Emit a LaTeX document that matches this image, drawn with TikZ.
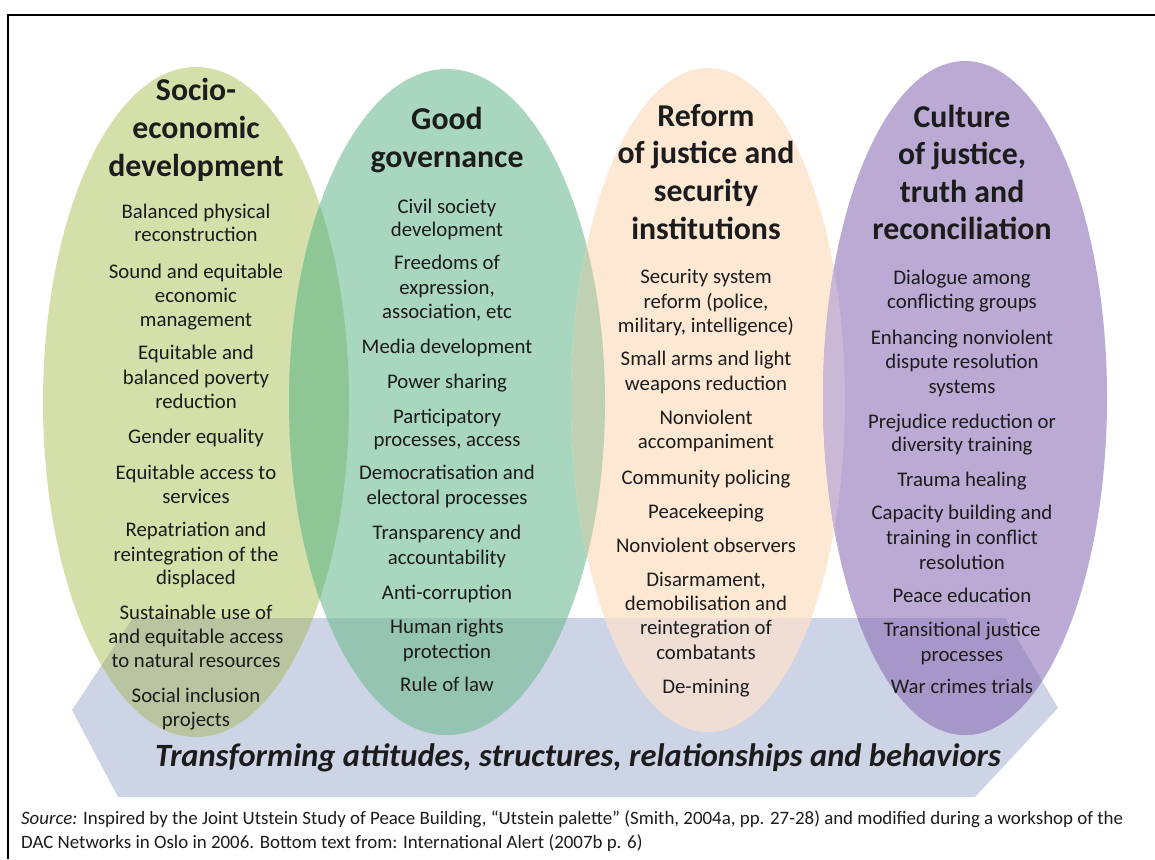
\documentclass[tikz,border=0pt]{standalone}
\usepackage{fontspec}
\setmainfont{Carlito}
\definecolor{ink}{RGB}{28,28,28}
\definecolor{cA}{RGB}{212,223,170}
\definecolor{cB}{RGB}{168,214,190}
\definecolor{cC}{RGB}{253,232,212}
\definecolor{cD}{RGB}{186,170,212}
\definecolor{cBand}{RGB}{205,212,230}
\definecolor{cAB}{RGB}{143,198,150}
\definecolor{cBC}{RGB}{192,208,178}
\definecolor{cCD}{RGB}{202,184,214}
\definecolor{cAband}{RGB}{185,196,160}
\definecolor{cBband}{RGB}{150,196,178}
\definecolor{cCband}{RGB}{240,222,212}
\definecolor{cDband}{RGB}{165,152,200}
\definecolor{cABband}{RGB}{130,182,146}
\definecolor{cBCband}{RGB}{178,196,182}
\definecolor{cCDband}{RGB}{185,168,205}
\begin{document}
\begin{tikzpicture}[x=1pt,y=-1pt,
  body/.style={font=\fontsize{20.8}{24}\selectfont, anchor=base, yshift=-6.2pt, inner sep=0pt, text=ink},
  head/.style={font=\fontsize{31.8}{38}\selectfont\bfseries, anchor=base, yshift=-9.5pt, inner sep=0pt, text=ink},
  bandtext/.style={font=\fontsize{32.5}{38}\selectfont\bfseries\itshape, anchor=base, yshift=-9.5pt, inner sep=0pt, text=ink},
  src/.style={font=\fontsize{18.9}{22}\selectfont, anchor=base west, yshift=-5.5pt, inner sep=0pt, text=ink},
  frame/.style={line width=2pt, black}]
\useasboundingbox (0,0) rectangle (1155,859);
\fill[white] (0,0) rectangle (1155,859);
\def\pband{(133,618) -- (1005,618) -- (1058,708) -- (975,797) -- (118,797) -- (72,710) -- cycle}
\def\pA{(196,402) ellipse [x radius=153pt, y radius=335pt]}
\def\pB{(447,402) ellipse [x radius=158pt, y radius=333pt]}
\def\pC{(708,400) ellipse [x radius=137pt, y radius=332pt]}
\def\pD{(965,398) ellipse [x radius=142pt, y radius=337pt]}
% band and ellipses
\fill[cBand] \pband;
\fill[cA] \pA;
\fill[cB] \pB;
\fill[cC] \pC;
\fill[cD] \pD;
\begin{scope}
  \clip \pband;
  \fill[cAband] \pA;
  \fill[cBband] \pB;
  \fill[cCband] \pC;
  \fill[cDband] \pD;
\end{scope}
\begin{scope}
  \clip \pA;
  \fill[cAB] \pB;
  \clip \pband;
  \fill[cABband] \pB;
\end{scope}
\begin{scope}
  \clip \pB;
  \fill[cBC] \pC;
  \clip \pband;
  \fill[cBCband] \pC;
\end{scope}
\begin{scope}
  \clip \pC;
  \fill[cCD] \pD;
  \clip \pband;
  \fill[cCDband] \pD;
\end{scope}
% frame
\coordinate (fbl) at (8,859);
\coordinate (ftl) at (8,15);
\coordinate (ftr) at (1155,15);
\draw[frame] (fbl) -- (ftl) -- (ftr);
% column 1
\foreach \yv/\lv [count=\i] in {91/Socio-, 129/economic, 167/development}
  \node[head] (ha\i) at (196,\yv) {\lv};
\foreach \yv/\lv [count=\i] in {212/Balanced physical, 235/reconstruction,
  272/Sound and equitable, 296/economic, 320/management,
  353/Equitable and, 378/balanced poverty, 402/reduction,
  437/Gender equality,
  473/Equitable access to, 497/services,
  530/Repatriation and, 555/reintegration of the, 578/displaced,
  613/Sustainable use of, 637/and equitable access, 661/to natural resources,
  696/Social inclusion, 720/projects}
  \node[body] (a\i) at (196,\yv) {\lv};
% column 2
\foreach \yv/\lv [count=\i] in {120/Good, 158/governance}
  \node[head] (hb\i) at (447,\yv) {\lv};
\foreach \yv/\lv [count=\i] in {207/Civil society, 230/development,
  263/Freedoms of, 288/{expression,}, 312/{association, etc},
  347/Media development,
  382/Power sharing,
  417/Participatory, 440/{processes, access},
  473/Democratisation and, 498/electoral processes,
  533/Transparency and, 558/accountability,
  593/Anti-corruption,
  627/Human rights, 652/protection,
  685/Rule of law}
  \node[body] (b\i) at (447,\yv) {\lv};
% column 3
\foreach \yv/\lv [count=\i] in {117/Reform, 154/of justice and, 192/security, 230/institutions}
  \node[head] (hc\i) at (706,\yv) {\lv};
\foreach \yv/\lv [count=\i] in {277/Security system, 302/{reform (police,}, 326/{military, intelligence)},
  359/Small arms and light, 384/weapons reduction,
  418/Nonviolent, 442/accompaniment,
  478/Community policing,
  512/Peacekeeping,
  546/Nonviolent observers,
  580/{Disarmament,}, 604/demobilisation and, 628/reintegration of, 653/combatants,
  687/De-mining}
  \node[body] (c\i) at (706,\yv) {\lv};
% column 4
\foreach \yv/\lv [count=\i] in {118/Culture, 155/{of justice,}, 193/truth and, 230/reconciliation}
  \node[head] (hd\i) at (962,\yv) {\lv};
\foreach \yv/\lv [count=\i] in {278/Dialogue among, 302/conflicting groups,
  338/Enhancing nonviolent, 362/dispute resolution, 387/systems,
  422/Prejudice reduction or, 445/diversity training,
  480/Trauma healing,
  513/Capacity building and, 538/training in conflict, 563/resolution,
  596/Peace education,
  630/Transitional justice, 655/processes,
  687/War crimes trials}
  \node[body] (d\i) at (962,\yv) {\lv};
% band text
\node[bandtext] (trans) at (578,757) {Transforming attitudes, structures, relationships and behaviors};
% source
\node[src] (src1) at (21,819) {\textit{Source:} Inspired by the Joint Utstein Study of Peace Building, “Utstein palette” (Smith, 2004a, pp. 27-28) and modified during a workshop of the};
\node[src] (src2) at (21,843) {DAC Networks in Oslo in 2006. Bottom text from: International Alert (2007b p. 6)};
\end{tikzpicture}
\end{document}
